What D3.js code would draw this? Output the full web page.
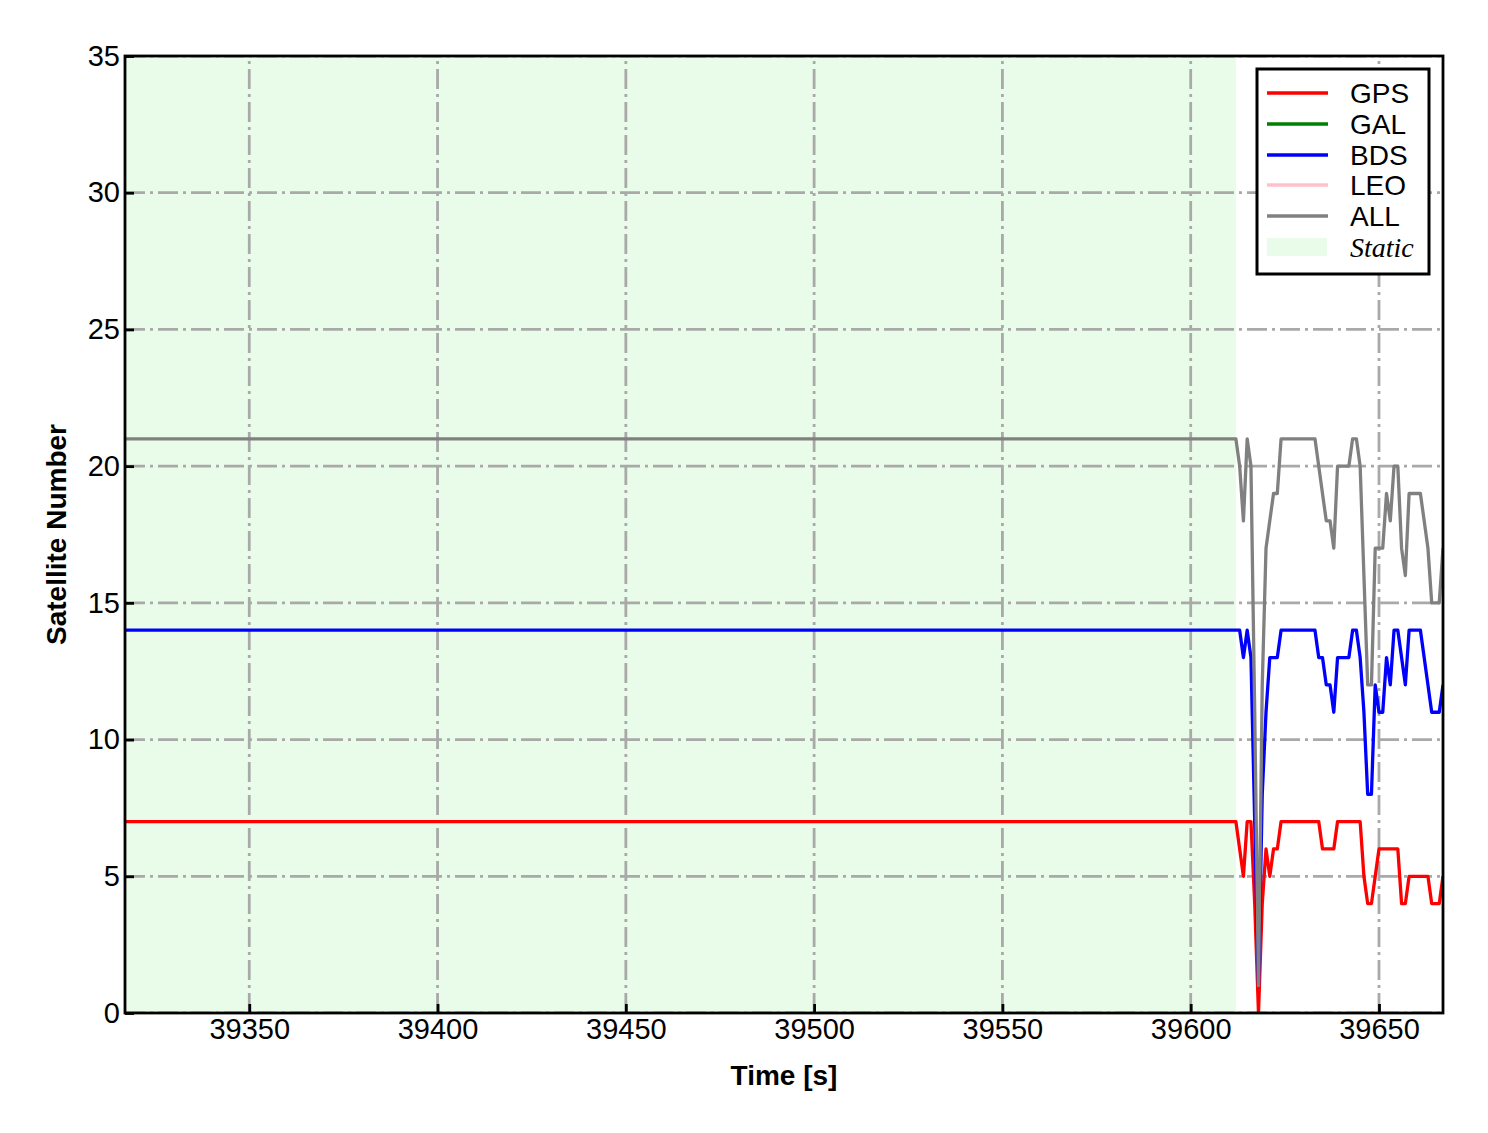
<!DOCTYPE html>
<html>
<head>
<meta charset="utf-8">
<script src="https://cdn.jsdelivr.net/npm/d3@7"></script>
<style>
  html, body { margin: 0; padding: 0; background: #ffffff; }
  svg { display: block; }
</style>
</head>
<body>
<svg id="chart" width="1488" height="1133"></svg>
<script>
// ---------------- data ----------------
const times = [39317, 39612, 39613, 39614, 39615, 39616, 39617, 39618, 39619, 39620,
  39621, 39622, 39623, 39624, 39625, 39626, 39627, 39628, 39629, 39630,
  39631, 39632, 39633, 39634, 39635, 39636, 39637, 39638, 39639, 39640,
  39641, 39642, 39643, 39644, 39645, 39646, 39647, 39648, 39649, 39650,
  39651, 39652, 39653, 39654, 39655, 39656, 39657, 39658, 39659, 39660,
  39661, 39662, 39663, 39664, 39665, 39666, 39667];

const gps = [7, 7, 6, 5, 7, 7, 4, 0, 4, 6,
  5, 6, 6, 7, 7, 7, 7, 7, 7, 7,
  7, 7, 7, 7, 6, 6, 6, 6, 7, 7,
  7, 7, 7, 7, 7, 5, 4, 4, 5, 6,
  6, 6, 6, 6, 6, 4, 4, 5, 5, 5,
  5, 5, 5, 4, 4, 4, 5];

const gal = [];   // no GAL observations shown
const bds = [14, 14, 14, 13, 14, 13, 7, 1, 8, 11,
  13, 13, 13, 14, 14, 14, 14, 14, 14, 14,
  14, 14, 14, 13, 13, 12, 12, 11, 13, 13,
  13, 13, 14, 14, 13, 11, 8, 8, 12, 11,
  11, 13, 12, 14, 14, 13, 12, 14, 14, 14,
  14, 13, 12, 11, 11, 11, 12];
const leo = [];   // no LEO observations shown
const all = [21, 21, 20, 18, 21, 20, 11, 1, 12, 17,
  18, 19, 19, 21, 21, 21, 21, 21, 21, 21,
  21, 21, 21, 20, 19, 18, 18, 17, 20, 20,
  20, 20, 21, 21, 20, 16, 12, 12, 17, 17,
  17, 19, 18, 20, 20, 17, 16, 19, 19, 19,
  19, 18, 17, 15, 15, 15, 17];

const staticSpan = [39317, 39612];
const xTicks = [39350, 39400, 39450, 39500, 39550, 39600, 39650];
const yTicks = [0, 5, 10, 15, 20, 25, 30, 35];
const seriesNames = ["GPS", "GAL", "BDS", "LEO", "ALL"];
const seriesColors = ["#ff0000", "#008000", "#0000ff", "#ffc0cb", "#808080"];
const seriesValues = [gps, gal, bds, leo, all];

// ---------------- layout ----------------
const svg = d3.select("#chart");
const L = 125, R = 1443, T = 56, B = 1013;
const x = d3.scaleLinear().domain([39317, 39667]).range([L, R]);
const y = d3.scaleLinear().domain([0, 35]).range([B, T]);
const font = "'Liberation Sans', Arial, Helvetica, sans-serif";

svg.append("rect").attr("x", 0).attr("y", 0).attr("width", 1488).attr("height", 1133).attr("fill", "#fff");

svg.append("defs").append("clipPath").attr("id", "clip")
  .append("rect").attr("x", L).attr("y", T).attr("width", R - L).attr("height", B - T);

// static span
svg.append("rect")
  .attr("x", x(staticSpan[0])).attr("y", T)
  .attr("width", x(staticSpan[1]) - x(staticSpan[0])).attr("height", B - T)
  .attr("fill", "#e9fce9");

// grid
const grid = svg.append("g").attr("clip-path", "url(#clip)");
grid.selectAll(".gx").data(xTicks).join("line")
  .attr("x1", d => x(d)).attr("x2", d => x(d))
  .attr("y1", B).attr("y2", T)
  .attr("stroke", "#a9a9a9").attr("stroke-width", 2.8)
  .attr("stroke-dasharray", "20,5,3,5");
grid.selectAll(".gy").data(yTicks).join("line")
  .attr("x1", L).attr("x2", R)
  .attr("y1", d => y(d)).attr("y2", d => y(d))
  .attr("stroke", "#a9a9a9").attr("stroke-width", 2.8)
  .attr("stroke-dasharray", "20,5,3,5");

// lines
const lines = svg.append("g").attr("clip-path", "url(#clip)");
seriesValues.forEach((vals, i) => {
  if (!vals.length) return;
  const pts = vals.map((v, k) => [times[k], v]);
  lines.append("path")
    .datum(pts)
    .attr("fill", "none")
    .attr("stroke", seriesColors[i])
    .attr("stroke-width", 3.3)
    .attr("stroke-linejoin", "round")
    .attr("d", d3.line().x(d => x(d[0])).y(d => y(d[1])));
});

// axes (inward ticks, left and bottom)
const xAxis = d3.axisBottom(x).tickValues(xTicks).tickSize(-9).tickPadding(20).tickFormat(d3.format("d"));
const gx = svg.append("g").attr("transform", `translate(0,${B})`).call(xAxis);
gx.select(".domain").remove();
gx.selectAll(".tick line").attr("stroke", "#000").attr("stroke-width", 2.8);
gx.selectAll(".tick text").attr("font-family", font).attr("font-size", 29).attr("fill", "#000")
  .attr("dy", "0.71em").attr("y", 5);

const yAxis = d3.axisLeft(y).tickValues(yTicks).tickSize(-9).tickPadding(14);
const gy = svg.append("g").attr("transform", `translate(${L},0)`).call(yAxis);
gy.select(".domain").remove();
gy.selectAll(".tick line").attr("stroke", "#000").attr("stroke-width", 2.8);
gy.selectAll(".tick text").attr("font-family", font).attr("font-size", 29).attr("fill", "#000")
  .attr("x", -5);

// frame
svg.append("rect").attr("x", L).attr("y", T).attr("width", R - L).attr("height", B - T)
  .attr("fill", "none").attr("stroke", "#000").attr("stroke-width", 2.8);

// axis titles
svg.append("text").attr("x", (L + R) / 2).attr("y", 1085)
  .attr("text-anchor", "middle").attr("font-family", font).attr("font-weight", "bold")
  .attr("font-size", 28).text("Time [s]");
svg.append("text").attr("transform", `translate(66,${(T + B) / 2}) rotate(-90)`)
  .attr("text-anchor", "middle").attr("font-family", font).attr("font-weight", "bold")
  .attr("font-size", 28).text("Satellite Number");

// legend
const lg = svg.append("g");
lg.append("rect").attr("x", 1257).attr("y", 69).attr("width", 172).attr("height", 205)
  .attr("fill", "#fff").attr("stroke", "#000").attr("stroke-width", 3);
const rowY = [93, 124, 155, 185, 216];
seriesNames.forEach((name, i) => {
  lg.append("line").attr("x1", 1267).attr("x2", 1328).attr("y1", rowY[i]).attr("y2", rowY[i])
    .attr("stroke", seriesColors[i]).attr("stroke-width", 3.3);
  lg.append("text").attr("x", 1350).attr("y", rowY[i] + 10)
    .attr("font-family", font).attr("font-size", 28).attr("fill", "#000").text(name);
});
lg.append("rect").attr("x", 1267).attr("y", 238).attr("width", 60).attr("height", 18)
  .attr("fill", "#e9fce9");
lg.append("text").attr("x", 1350).attr("y", 257)
  .attr("font-family", "'Liberation Serif', 'Times New Roman', serif").attr("font-style", "italic")
  .attr("font-size", 28).attr("fill", "#000").text("Static");
</script>
</body>
</html>
